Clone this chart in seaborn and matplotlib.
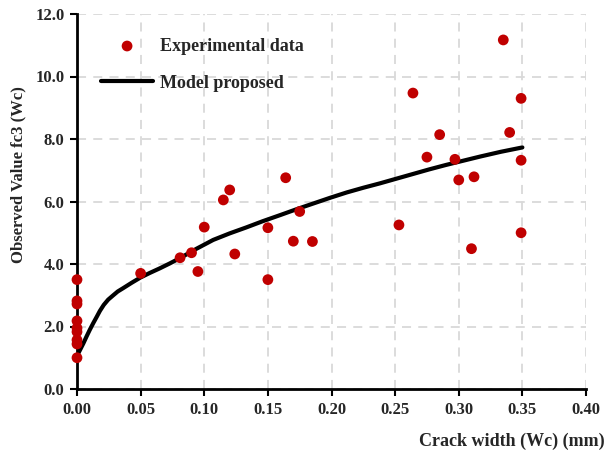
import matplotlib
matplotlib.use("Agg")
import matplotlib.pyplot as plt
import seaborn as sns
import pandas as pd

# Experimental data
exp_x = [0.0, 0.0, 0.0, 0.0, 0.0, 0.0, 0.0, 0.0, 0.0,
         0.05, 0.081, 0.09, 0.095, 0.10, 0.115, 0.12, 0.124,
         0.15, 0.15, 0.164, 0.17, 0.175, 0.185,
         0.253, 0.264, 0.275, 0.285, 0.297, 0.30, 0.31, 0.312,
         0.335, 0.34, 0.349, 0.349, 0.349]
exp_y = [3.5, 2.82, 2.72, 2.18, 1.95, 1.83, 1.57, 1.44, 1.0,
         3.7, 4.2, 4.36, 3.76, 5.18, 6.05, 6.37, 4.32,
         5.16, 3.5, 6.76, 4.73, 5.68, 4.72,
         5.25, 9.47, 7.42, 8.14, 7.35, 6.69, 4.49, 6.79,
         11.17, 8.21, 9.3, 7.32, 5.0]

# Model proposed curve
model_x = [0.001, 0.003, 0.005, 0.0075, 0.010, 0.0128, 0.0155, 0.018, 0.021, 0.0245,
           0.0285, 0.032, 0.036, 0.043, 0.05, 0.057, 0.065, 0.073, 0.081, 0.094,
           0.107, 0.12, 0.133, 0.146, 0.16, 0.173, 0.186, 0.199, 0.212, 0.225,
           0.238, 0.251, 0.264, 0.277, 0.29, 0.303, 0.317, 0.333, 0.35]
model_y = [1.14, 1.30, 1.46, 1.68, 1.89, 2.11, 2.31, 2.50, 2.69, 2.86,
           3.0, 3.12, 3.22, 3.40, 3.57, 3.71, 3.86, 4.02, 4.19, 4.49,
           4.77, 4.98, 5.17, 5.37, 5.57, 5.76, 5.94, 6.12, 6.29, 6.44,
           6.58, 6.73, 6.88, 7.03, 7.17, 7.30, 7.44, 7.59, 7.73]

x_ticks = [0.00, 0.05, 0.10, 0.15, 0.20, 0.25, 0.30, 0.35, 0.40]
y_ticks = [0.0, 2.0, 4.0, 6.0, 8.0, 10.0, 12.0]

sns.set_theme(style="white")
plt.rcParams['font.family'] = ['Liberation Serif', 'DejaVu Serif']
plt.rcParams['font.weight'] = 'bold'

fig = plt.figure(figsize=(6.08, 4.59), dpi=100)
ax = fig.add_axes([77/608, 70/459, (586-77)/608, (389-14)/459])

df_exp = pd.DataFrame({"x": exp_x, "y": exp_y})
df_model = pd.DataFrame({"x": model_x, "y": model_y})

sns.scatterplot(data=df_exp, x="x", y="y", ax=ax, color="#C00000", s=60,
                edgecolor="none", label="Experimental data", zorder=5, clip_on=False)
sns.lineplot(data=df_model, x="x", y="y", ax=ax, color="black", linewidth=3,
             label="Model proposed", zorder=4, sort=False)

ax.set_xlim(0, 0.40)
ax.set_ylim(0, 12)
ax.set_xticks(x_ticks)
ax.set_yticks(y_ticks)
ax.set_xticklabels([f"{v:.2f}" for v in x_ticks], fontsize=12, fontweight='bold')
ax.set_yticklabels([f"{v:.1f}" for v in y_ticks], fontsize=12, fontweight='bold')

ax.grid(True, color="#d9d9d9", linestyle=(0, (5, 4)), linewidth=1.3)
ax.set_axisbelow(True)
for s in ["top", "right"]:
    ax.spines[s].set_visible(False)
for s in ["left", "bottom"]:
    ax.spines[s].set_color("black")
    ax.spines[s].set_linewidth(2)
ax.tick_params(axis="both", direction="out", length=5, width=1.5, color="black",
               bottom=True, left=True, pad=4)

ax.set_xlabel("")
ax.set_ylabel("Observed Value fc3 (Wc)", fontsize=12, fontweight='bold')
ax.yaxis.set_label_coords(-0.100, 0.573)
fig.text(605/608, 1 - 441/459, "Crack width (Wc) (mm)", ha="right", va="center",
         fontsize=13, fontweight='bold')

leg = ax.legend(loc="upper left", bbox_to_anchor=(0.015, 0.98), frameon=False,
                prop={'size': 13, 'weight': 'bold'}, handlelength=2.9,
                labelspacing=1.1, handletextpad=0.4)

fig.savefig("out.png", dpi=100)
